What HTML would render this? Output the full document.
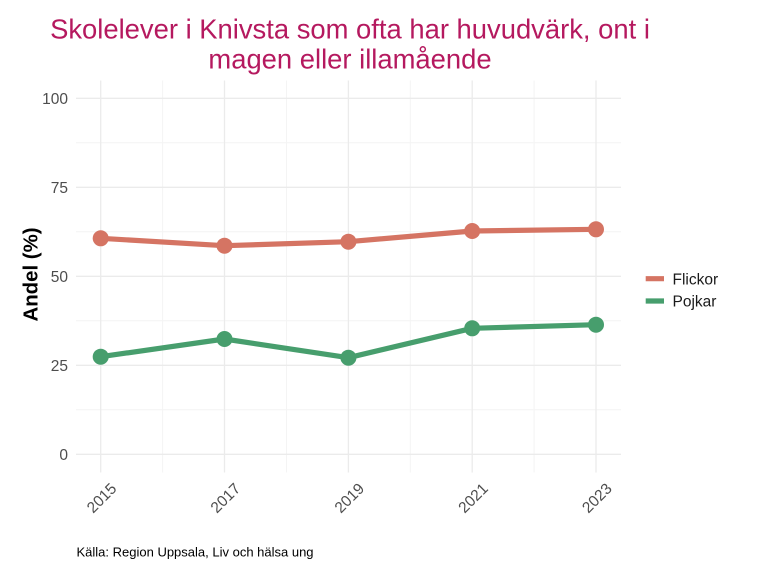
<!DOCTYPE html>
<html>
<head>
<meta charset="utf-8">
<style>
html,body{margin:0;padding:0;background:#fff;}
svg{display:block;}
text{font-family:"Liberation Sans",Arial,sans-serif;}
</style>
</head>
<body>
<svg width="768" height="576" viewBox="0 0 768 576" xmlns="http://www.w3.org/2000/svg">
<rect width="768" height="576" fill="#fff"/>
<!-- title -->
<text x="350" y="38.3" font-size="27.4" fill="#b5195f" text-anchor="middle">Skolelever i Knivsta som ofta har huvudvärk, ont i</text>
<text x="350" y="68.3" font-size="27.4" fill="#b5195f" text-anchor="middle">magen eller illamående</text>
<!-- minor gridlines -->
<g stroke="#f4f4f4" stroke-width="1">
<line x1="76" x2="621" y1="142.8" y2="142.8"/>
<line x1="76" x2="621" y1="231.8" y2="231.8"/>
<line x1="76" x2="621" y1="320.8" y2="320.8"/>
<line x1="76" x2="621" y1="409.8" y2="409.8"/>
<line y1="80.5" y2="472.5" x1="162.6" x2="162.6"/>
<line y1="80.5" y2="472.5" x1="286.5" x2="286.5"/>
<line y1="80.5" y2="472.5" x1="410.3" x2="410.3"/>
<line y1="80.5" y2="472.5" x1="534.1" x2="534.1"/>
</g>
<!-- major gridlines -->
<g stroke="#ebebeb" stroke-width="1.3">
<line x1="76" x2="621" y1="98.3" y2="98.3"/>
<line x1="76" x2="621" y1="187.3" y2="187.3"/>
<line x1="76" x2="621" y1="276.3" y2="276.3"/>
<line x1="76" x2="621" y1="365.3" y2="365.3"/>
<line x1="76" x2="621" y1="454.3" y2="454.3"/>
<line y1="80.5" y2="472.5" x1="100.7" x2="100.7"/>
<line y1="80.5" y2="472.5" x1="224.5" x2="224.5"/>
<line y1="80.5" y2="472.5" x1="348.4" x2="348.4"/>
<line y1="80.5" y2="472.5" x1="472.2" x2="472.2"/>
<line y1="80.5" y2="472.5" x1="596" x2="596"/>
</g>
<!-- y tick labels -->
<g font-size="15.5" fill="#4d4d4d" text-anchor="end">
<text x="68" y="103.8">100</text>
<text x="68" y="192.8">75</text>
<text x="68" y="281.8">50</text>
<text x="68" y="370.8">25</text>
<text x="68" y="459.8">0</text>
</g>
<!-- x tick labels -->
<g font-size="15.5" fill="#4d4d4d" text-anchor="end">
<text transform="translate(117.5,489.5) rotate(-45)">2015</text>
<text transform="translate(241.3,489.5) rotate(-45)">2017</text>
<text transform="translate(365.2,489.5) rotate(-45)">2019</text>
<text transform="translate(489,489.5) rotate(-45)">2021</text>
<text transform="translate(612.8,489.5) rotate(-45)">2023</text>
</g>
<!-- y axis title -->
<text transform="translate(37.5,274.5) rotate(-90)" font-size="20.4" font-weight="bold" fill="#000" text-anchor="middle">Andel (%)</text>
<!-- series -->
<polyline points="100.7,238.3 224.5,245.7 348.4,241.7 472.2,231 596,229.3" fill="none" stroke="#d57463" stroke-width="5.2" stroke-linejoin="round"/>
<polyline points="100.7,356.7 224.5,339 348.4,357.7 472.2,328.3 596,324.7" fill="none" stroke="#479e6d" stroke-width="5.2" stroke-linejoin="round"/>
<g fill="#d57463">
<circle cx="100.7" cy="238.3" r="8"/>
<circle cx="224.5" cy="245.7" r="8"/>
<circle cx="348.4" cy="241.7" r="8"/>
<circle cx="472.2" cy="231" r="8"/>
<circle cx="596" cy="229.3" r="8"/>
</g>
<g fill="#479e6d">
<circle cx="100.7" cy="356.7" r="8"/>
<circle cx="224.5" cy="339" r="8"/>
<circle cx="348.4" cy="357.7" r="8"/>
<circle cx="472.2" cy="328.3" r="8"/>
<circle cx="596" cy="324.7" r="8"/>
</g>
<!-- legend -->
<line x1="645.7" x2="664" y1="278.7" y2="278.7" stroke="#d57463" stroke-width="5.2"/>
<line x1="645.7" x2="664" y1="301" y2="301" stroke="#479e6d" stroke-width="5.2"/>
<text x="672.5" y="284.3" font-size="15.5" fill="#1a1a1a">Flickor</text>
<text x="672.5" y="306.6" font-size="15.5" fill="#1a1a1a">Pojkar</text>
<!-- caption -->
<text x="76.5" y="556.5" font-size="13" fill="#000">Källa: Region Uppsala, Liv och hälsa ung</text>
</svg>
</body>
</html>
